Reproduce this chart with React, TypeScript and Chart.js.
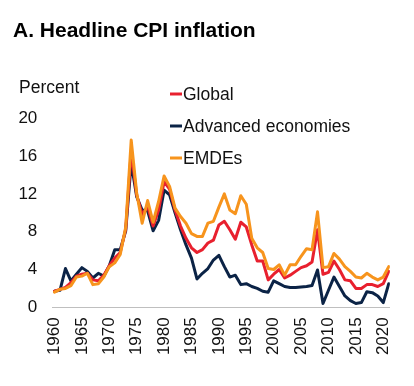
import React, { useEffect, useRef } from "react";
import { Chart, registerables } from "chart.js";

Chart.register(...registerables);

const years: number[] = [];
for (let y = 1960; y <= 2021; y++) years.push(y);

const globalCPI = [
  1.7, 1.9, 2.1, 2.6, 3.3, 3.5, 3.6, 2.9, 2.8, 3.4,
  4.4, 5.2, 5.8, 8.3, 16.5, 11.9, 9.8, 10.7, 8.6, 10.3,
  13.3, 12.5, 10.3, 8.6, 7.3, 6.3, 5.8, 6.1, 6.8, 7.1,
  8.7, 9.1, 8.2, 7.2, 9.0, 8.5, 6.6, 4.9, 4.9, 2.9,
  3.5, 4.0, 3.1, 3.4, 3.8, 4.2, 4.4, 4.8, 8.2, 3.5,
  3.7, 4.9, 4.0, 2.9, 2.8, 2.0, 2.0, 2.4, 2.4, 2.2,
  2.5, 3.8,
];

const advancedCPI = [
  1.7, 1.8, 4.1, 2.8, 3.5, 4.2, 3.8, 3.1, 3.6, 3.3,
  4.4, 6.1, 6.1, 8.1, 15.3, 11.7, 10.3, 10.2, 8.1, 9.2,
  12.4, 11.9, 10.0, 8.2, 6.6, 5.2, 3.0, 3.6, 4.1, 5.0,
  5.5, 4.3, 3.2, 3.4, 2.4, 2.5, 2.2, 2.0, 1.7, 1.6,
  2.8, 2.5, 2.2, 2.1, 2.1, 2.15, 2.2, 2.3, 3.95, 0.4,
  1.8, 3.2, 2.2, 1.2, 0.7, 0.4, 0.5, 1.65, 1.55, 1.2,
  0.5, 2.5,
];

const emdeCPI = [
  1.6, 1.9, 2.0, 2.3, 3.2, 3.3, 3.6, 2.4, 2.5, 3.2,
  4.3, 4.7, 5.6, 8.5, 17.7, 12.1, 8.9, 11.3, 9.0, 11.2,
  13.9, 12.8, 10.5, 9.6, 8.9, 7.8, 7.5, 7.5, 8.9, 9.1,
  10.6, 12.0, 10.3, 9.9, 11.8, 10.9, 7.3, 6.3, 5.8, 4.1,
  4.0, 4.5, 3.4, 4.5, 4.5, 5.4, 6.2, 6.1, 10.1, 4.2,
  4.3, 5.7, 5.1, 4.3, 3.8, 3.2, 3.1, 3.6, 3.2, 2.9,
  3.2, 4.3,
];

const seriesNames = ["Global", "Advanced economies", "EMDEs"];
const seriesColors = ["#E8202E", "#0B2346", "#F7941D"];
const yTicks = [0, 4, 8, 12, 16, 20];

const titleText = "A. Headline CPI inflation";
const unitText = "Percent";
const FONT = "'Liberation Sans', Arial, sans-serif";

const toPoints = (vals: number[]) => vals.map((v, i) => ({ x: years[i], y: v }));

export default function App() {
  const ref = useRef<HTMLCanvasElement | null>(null);

  useEffect(() => {
    const canvas = ref.current;
    if (!canvas) return;

    const overlay = {
      id: "overlay",
      afterDraw(chart: any) {
        const ctx = chart.ctx;
        ctx.save();
        ctx.fillStyle = "#000";
        ctx.font = `bold 21px ${FONT}`;
        ctx.textAlign = "left";
        ctx.textBaseline = "alphabetic";
        ctx.fillText(titleText, 13, 37);

        ctx.font = `17.5px ${FONT}`;
        ctx.textBaseline = "middle";
        ctx.fillStyle = "#111";
        ctx.fillText(unitText, 19, 88);

        const legendY = [94, 126, 158];
        seriesNames.forEach((name, i) => {
          ctx.strokeStyle = seriesColors[i];
          ctx.lineWidth = 3;
          ctx.beginPath();
          ctx.moveTo(170, legendY[i]);
          ctx.lineTo(182, legendY[i]);
          ctx.stroke();
          ctx.fillStyle = "#111";
          ctx.fillText(name, 183, legendY[i] + 1);
        });
        ctx.restore();
      },
    };

    const chart = new Chart(canvas, {
      type: "line",
      data: {
        datasets: [
          {
            label: seriesNames[2],
            data: toPoints(emdeCPI),
            borderColor: seriesColors[2],
            backgroundColor: seriesColors[2],
          },
          {
            label: seriesNames[0],
            data: toPoints(globalCPI),
            borderColor: seriesColors[0],
            backgroundColor: seriesColors[0],
          },
          {
            label: seriesNames[1],
            data: toPoints(advancedCPI),
            borderColor: seriesColors[1],
            backgroundColor: seriesColors[1],
          },
        ],
      },
      options: {
        responsive: false,
        animation: false,
        events: [],
        elements: {
          line: { borderWidth: 3, tension: 0, borderJoinStyle: "round", borderCapStyle: "round" },
          point: { radius: 0 },
        },
        layout: { padding: { top: 118.3, right: 16.7, left: 0, bottom: 0 } },
        plugins: {
          legend: { display: false },
          title: { display: false },
          tooltip: { enabled: false },
        },
        scales: {
          x: {
            type: "linear",
            min: 1959.6,
            max: 2021.2,
            grid: { display: false, drawTicks: false },
            border: { display: true, color: "#BFBFBF", width: 1 },
            ticks: {
              stepSize: 5,
              includeBounds: false,
              autoSkip: false,
              maxRotation: 90,
              minRotation: 90,
              padding: 10,
              color: "#111",
              font: { family: FONT, size: 17 },
              callback: (v: any) => String(v),
            },
            afterFit: (s: any) => {
              s.height = 386 - 307.3;
            },
          },
          y: {
            min: 0,
            max: 20,
            grid: { display: false, drawTicks: false },
            border: { display: false },
            afterBuildTicks: (s: any) => {
              s.ticks = yTicks.map((v) => ({ value: v }));
            },
            ticks: {
              padding: 15,
              color: "#111",
              font: { family: FONT, size: 17 },
            },
            afterFit: (s: any) => {
              s.width = 52.3;
            },
          },
        },
      },
      plugins: [overlay],
    });

    return () => chart.destroy();
  }, []);

  return (
    <div style={{ position: "absolute", left: 0, top: 0, width: 414, height: 386, background: "#fff" }}>
      <canvas ref={ref} width={414} height={386} style={{ width: 414, height: 386 }} />
    </div>
  );
}
